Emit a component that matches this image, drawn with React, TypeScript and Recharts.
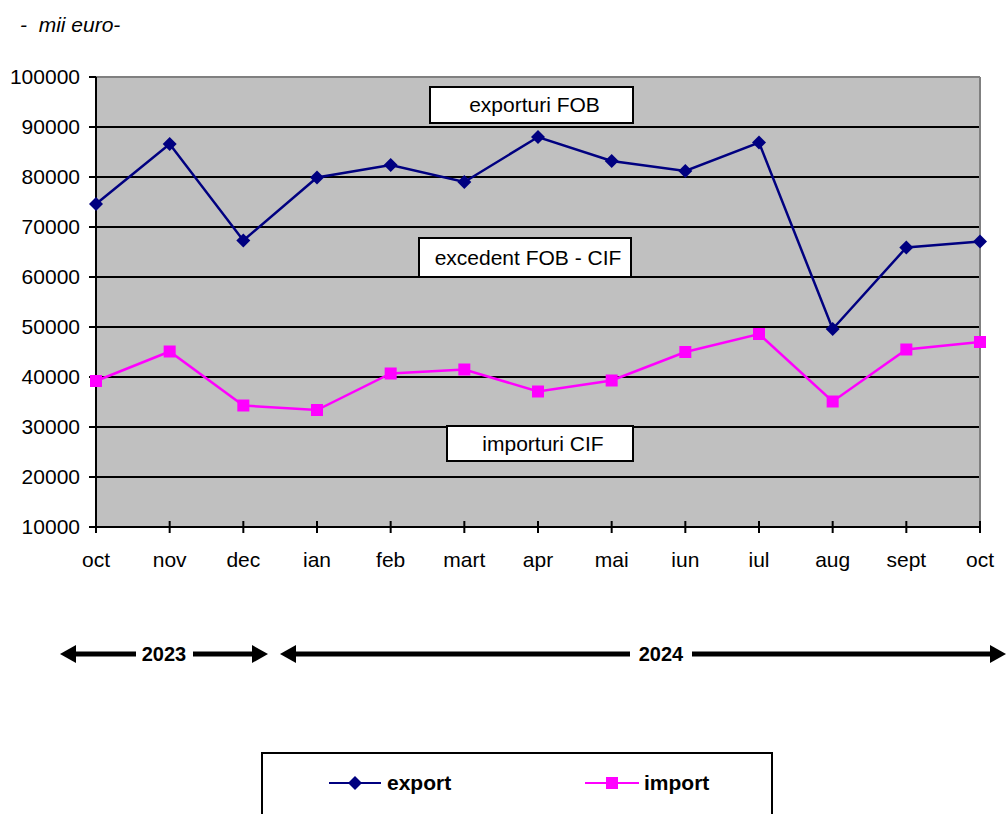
import { LineChart, Line, XAxis, YAxis, CartesianGrid, ReferenceLine } from 'recharts';

const periods = ['2023-10', '2023-11', '2023-12', '2024-01', '2024-02', '2024-03', '2024-04', '2024-05', '2024-06', '2024-07', '2024-08', '2024-09', '2024-10'];
const monthLabels = ['oct', 'nov', 'dec', 'ian', 'feb', 'mart', 'apr', 'mai', 'iun', 'iul', 'aug', 'sept', 'oct'];
const exportValues = [74600, 86600, 67300, 79900, 82400, 79000, 88000, 83200, 81200, 86900, 49600, 65900, 67100];
const importValues = [39200, 45100, 34300, 33400, 40700, 41500, 37100, 39300, 45000, 48600, 35100, 45500, 47000];
const yTicks = [10000, 20000, 30000, 40000, 50000, 60000, 70000, 80000, 90000, 100000];

const data = periods.map((p, i) => ({
  period: p,
  export: exportValues[i],
  import: importValues[i],
}));

const FONT = '"Liberation Sans", Arial, sans-serif';
const EXPORT_COLOR = '#000080';
const IMPORT_COLOR = '#ff00ff';

const Diamond = (props: any) => {
  const { cx, cy, index } = props;
  if (cx == null || cy == null) return <g key={`d-${index}`} />;
  const r = 7;
  return (
    <polygon
      key={`d-${index}`}
      points={`${cx},${cy - r} ${cx + r},${cy} ${cx},${cy + r} ${cx - r},${cy}`}
      fill={EXPORT_COLOR}
    />
  );
};

const Square = (props: any) => {
  const { cx, cy, index } = props;
  if (cx == null || cy == null) return <g key={`s-${index}`} />;
  const s = 12;
  return <rect key={`s-${index}`} x={cx - s / 2} y={cy - s / 2} width={s} height={s} fill={IMPORT_COLOR} />;
};

const MonthTick = (props: any) => {
  const { x, y, payload } = props;
  const idx = periods.indexOf(payload.value);
  return (
    <g>
      <line x1={x} x2={x} y1={y - 6} y2={y + 6} stroke="#000" strokeWidth={2} />
      <text x={x} y={y + 40} textAnchor="middle" fill="#000" fontSize={21} fontFamily={FONT}>
        {monthLabels[idx]}
      </text>
    </g>
  );
};

const labelBox = (left: number, top: number, width: number, height: number): React.CSSProperties => ({
  position: 'absolute',
  left,
  top,
  width,
  height,
  background: '#fff',
  border: '2px solid #000',
  boxSizing: 'border-box',
  fontFamily: FONT,
  fontSize: 21,
  display: 'flex',
  alignItems: 'center',
  justifyContent: 'center',
  paddingLeft: 6,
  color: '#000',
});

const App = () => {
  return (
    <div style={{ position: 'absolute', left: 0, top: 0, width: 1007, height: 814, background: '#fff', overflow: 'hidden', fontFamily: FONT }}>
      <div style={{ position: 'absolute', left: 20, top: 13, fontSize: 21, fontStyle: 'italic', whiteSpace: 'pre' }}>
        {'-  mii euro-'}
      </div>

      <div style={{ position: 'absolute', left: 0, top: 0 }}>
        <LineChart width={1007} height={600} data={data} margin={{ top: 77, right: 27, left: 0, bottom: 40 }}>
          <CartesianGrid vertical={false} stroke="#000" strokeWidth={2} fill="#c0c0c0" fillOpacity={1} />
          <ReferenceLine y={100000} stroke="#808080" strokeWidth={2} />
          <ReferenceLine x="2024-10" stroke="#808080" strokeWidth={2} />
          <XAxis
            dataKey="period"
            height={33}
            axisLine={{ stroke: '#000', strokeWidth: 2 }}
            tickLine={false}
            tickSize={0}
            tickMargin={0}
            tick={(p: any) => <MonthTick {...p} />}
            interval={0}
          />
          <YAxis
            width={96}
            domain={[10000, 100000]}
            ticks={yTicks}
            interval={0}
            axisLine={{ stroke: '#000', strokeWidth: 2 }}
            tickLine={{ stroke: '#000', strokeWidth: 2 }}
            tickSize={7}
            tickMargin={9}
            tick={{ fill: '#000', fontSize: 21, fontFamily: FONT }}
          />
          <Line
            type="linear"
            dataKey="export"
            stroke={EXPORT_COLOR}
            strokeWidth={2.5}
            dot={Diamond}
            activeDot={false}
            isAnimationActive={false}
          />
          <Line
            type="linear"
            dataKey="import"
            stroke={IMPORT_COLOR}
            strokeWidth={2.5}
            dot={Square}
            activeDot={false}
            isAnimationActive={false}
          />
        </LineChart>
      </div>

      <div style={labelBox(429, 86, 205, 38)}>exporturi FOB</div>
      <div style={labelBox(418, 237, 214, 41)}>excedent FOB - CIF</div>
      <div style={labelBox(446, 425, 188, 37)}>importuri CIF</div>

      <svg style={{ position: 'absolute', left: 0, top: 630 }} width={1007} height={50}>
        <g fill="#000" stroke="#000">
          <line x1={72} x2={136} y1={24} y2={24} strokeWidth={5} />
          <line x1={193} x2={256} y1={24} y2={24} strokeWidth={5} />
          <polygon points="60,24 76,15 76,33" stroke="none" />
          <polygon points="268,24 252,15 252,33" stroke="none" />
          <line x1={292} x2={630} y1={24} y2={24} strokeWidth={5} />
          <line x1={692} x2={992} y1={24} y2={24} strokeWidth={5} />
          <polygon points="280,24 296,15 296,33" stroke="none" />
          <polygon points="1006,24 990,15 990,33" stroke="none" />
        </g>
        <text x={164} y={31} textAnchor="middle" fontSize={20} fontWeight="bold" fontFamily={FONT}>2023</text>
        <text x={661} y={31} textAnchor="middle" fontSize={20} fontWeight="bold" fontFamily={FONT}>2024</text>
      </svg>

      <div style={{ position: 'absolute', left: 261, top: 752, width: 512, height: 90, border: '2px solid #000', boxSizing: 'border-box' }} />
      <svg style={{ position: 'absolute', left: 0, top: 768 }} width={1007} height={30}>
        <line x1={329} x2={381} y1={15} y2={15} stroke={EXPORT_COLOR} strokeWidth={2} />
        <polygon points="355,8 362,15 355,22 348,15" fill={EXPORT_COLOR} />
        <text x={387} y={22} fontSize={21} fontWeight="bold" fontFamily={FONT}>export</text>
        <line x1={585} x2={639} y1={15} y2={15} stroke={IMPORT_COLOR} strokeWidth={2} />
        <rect x={606} y={9} width={12} height={12} fill={IMPORT_COLOR} />
        <text x={644} y={22} fontSize={21} fontWeight="bold" fontFamily={FONT}>import</text>
      </svg>
    </div>
  );
};

export default App;
